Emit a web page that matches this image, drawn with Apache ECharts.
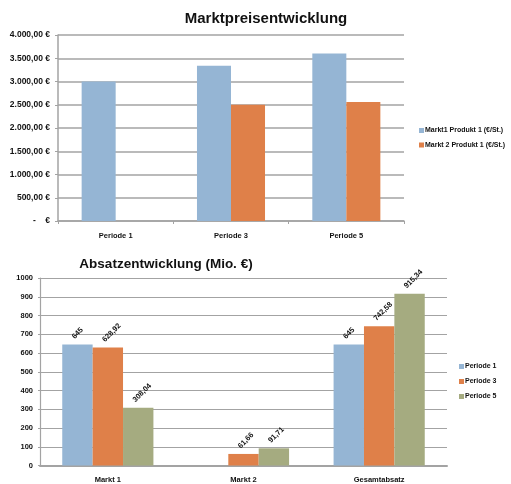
<!DOCTYPE html>
<html>
<head>
<meta charset="utf-8">
<script src="https://cdn.jsdelivr.net/npm/echarts@6/dist/echarts.min.js"></script>
<style>
  html, body { margin: 0; padding: 0; background: #fff; }
  #chart { width: 511px; height: 484px; }
</style>
</head>
<body>
<div id="chart"></div>
<script>
// Marktpreise (€/St.) je Periode
const priceCategories = ['Periode 1', 'Periode 3', 'Periode 5'];
const priceMarkt1 = [3000, 3340, 3600];
const priceMarkt2 = [null, 2500, 2560];
const priceSeriesNames = ['Markt1 Produkt 1 (€/St.)', 'Markt 2 Produkt 1 (€/St.)'];

// Absatz (Mio. €) je Markt
const salesCategories = ['Markt 1', 'Markt 2', 'Gesamtabsatz'];
const salesPeriode1 = [645, null, 645];
const salesPeriode3 = [628.92, 61.66, 742.58];
const salesPeriode5 = [308.04, 91.71, 915.34];
const salesSeriesNames = ['Periode 1', 'Periode 3', 'Periode 5'];

const BLUE = '#95b5d4';
const ORANGE = '#df8049';
const GREEN = '#a5ab80';
const GRID_COLOR = '#a3a3a3';
const SMALL_FONT = 'Liberation Sans';

function fmtDE(v, decimals) {
  const fixed = v.toFixed(decimals);
  const parts = fixed.split('.');
  const intPart = parts[0].replace(/\B(?=(\d{3})+(?!\d))/g, '.');
  return parts.length > 1 ? intPart + ',' + parts[1] : intPart;
}
function fmtLabel(v) {
  return Number.isInteger(v) ? String(v) : fmtDE(v, 2);
}

const smallText = { color: '#111', fontFamily: SMALL_FONT, fontWeight: 'bold' };

const dataLabel = {
  show: true,
  position: 'top',
  rotate: 45,
  align: 'left',
  verticalAlign: 'middle',
  distance: 11,
  offset: [-6, 0],
  fontSize: 7.5,
  ...smallText,
  formatter: p => fmtLabel(p.value)
};

const chart = echarts.init(document.getElementById('chart'), null, { renderer: 'canvas' });
chart.setOption({
  animation: false,
  backgroundColor: '#fff',
  title: [
    {
      text: 'Marktpreisentwicklung',
      left: 261, top: 6, textAlign: 'center',
      textStyle: { fontFamily: 'Liberation Sans', fontWeight: 'bold', fontSize: 15, color: '#111' }
    },
    {
      text: 'Absatzentwicklung (Mio. €)',
      left: 161, top: 252, textAlign: 'center',
      textStyle: { fontFamily: 'Liberation Sans', fontWeight: 'bold', fontSize: 13.5, color: '#111' }
    }
  ],
  legend: [
    {
      data: priceSeriesNames,
      orient: 'vertical',
      left: 414, top: 122,
      itemWidth: 5, itemHeight: 5, itemGap: 7.5, icon: 'rect',
      textStyle: { ...smallText, fontSize: 7, padding: [0, 0, 0, -4] }
    },
    {
      data: salesSeriesNames,
      orient: 'vertical',
      left: 454, top: 358,
      itemWidth: 5, itemHeight: 5, itemGap: 8, icon: 'rect',
      textStyle: { ...smallText, fontSize: 7, padding: [0, 0, 0, -4] }
    }
  ],
  grid: [
    { left: 58, right: 107, top: 35, height: 186, containLabel: false },
    { left: 40, right: 64, top: 278, height: 187.5, containLabel: false }
  ],
  xAxis: [
    {
      type: 'category', gridIndex: 0, data: priceCategories,
      axisLine: { lineStyle: { color: GRID_COLOR, width: 1.5 } },
      axisTick: { show: true, length: 3, lineStyle: { color: GRID_COLOR } },
      axisLabel: { ...smallText, fontSize: 7.5, margin: 11 }
    },
    {
      type: 'category', gridIndex: 1, data: salesCategories,
      axisLine: { lineStyle: { color: GRID_COLOR, width: 2 } },
      axisTick: { show: false },
      axisLabel: { ...smallText, fontSize: 7.5, margin: 10 }
    }
  ],
  yAxis: [
    {
      type: 'value', gridIndex: 0, min: 0, max: 4000, interval: 500,
      axisLine: { show: true, lineStyle: { color: GRID_COLOR, width: 1.5 } },
      axisTick: { show: true, length: 3, lineStyle: { color: GRID_COLOR } },
      splitLine: { lineStyle: { color: GRID_COLOR, width: 1.5 } },
      axisLabel: {
        ...smallText, fontSize: 8.5, margin: 8,
        formatter: v => v === 0 ? '-    €' : fmtDE(v, 2) + ' €'
      }
    },
    {
      type: 'value', gridIndex: 1, min: 0, max: 1000, interval: 100,
      axisLine: { show: true, lineStyle: { color: GRID_COLOR, width: 1.2 } },
      axisTick: { show: true, length: 2, lineStyle: { color: GRID_COLOR } },
      splitLine: { lineStyle: { color: GRID_COLOR, width: 1.2 } },
      axisLabel: { ...smallText, fontSize: 7.5, margin: 7, formatter: v => String(v) }
    }
  ],
  series: [
    {
      name: priceSeriesNames[0], type: 'bar', xAxisIndex: 0, yAxisIndex: 0,
      data: priceMarkt1, itemStyle: { color: BLUE },
      barWidth: '29.5%', barGap: '0%'
    },
    {
      name: priceSeriesNames[1], type: 'bar', xAxisIndex: 0, yAxisIndex: 0,
      data: priceMarkt2, itemStyle: { color: ORANGE },
      barWidth: '29.5%', barGap: '0%'
    },
    {
      name: salesSeriesNames[0], type: 'bar', xAxisIndex: 1, yAxisIndex: 1,
      data: salesPeriode1, itemStyle: { color: BLUE },
      barWidth: '22.4%', barGap: '0%', label: dataLabel
    },
    {
      name: salesSeriesNames[1], type: 'bar', xAxisIndex: 1, yAxisIndex: 1,
      data: salesPeriode3, itemStyle: { color: ORANGE },
      barWidth: '22.4%', barGap: '0%', label: dataLabel
    },
    {
      name: salesSeriesNames[2], type: 'bar', xAxisIndex: 1, yAxisIndex: 1,
      data: salesPeriode5, itemStyle: { color: GREEN },
      barWidth: '22.4%', barGap: '0%', label: dataLabel
    }
  ]
});
</script>
</body>
</html>
